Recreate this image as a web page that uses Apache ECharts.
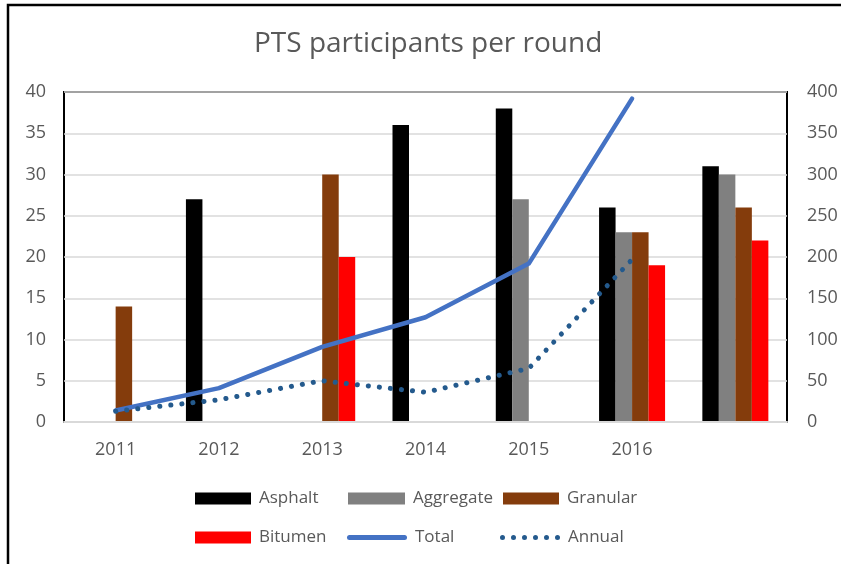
<!DOCTYPE html>
<html>
<head>
<meta charset="utf-8">
<script src="https://cdn.jsdelivr.net/npm/echarts@6/dist/echarts.min.js"></script>
<style>
  html, body { margin: 0; padding: 0; background: #fff; }
  #chart { width: 841px; height: 564px; }
</style>
</head>
<body>
<div id="chart"></div>
<script>
// rounds (the 7th group has no label)
const categories = ['2011', '2012', '2013', '2014', '2015', '2016', '']
// participants per scheme (left axis)
const asphalt = [null, 27, null, 36, 38, 26, 31]
const aggregate = [null, null, null, null, 27, 23, 30]
const granular = [14, null, 30, null, null, 23, 26]
const bitumen = [null, null, 20, null, null, 19, 22]
// totals (right axis)
const total = [14, 41, 91, 127, 192, 392]
const annual = [13, 27, 50, 36, 65, 197]

const textColor = '#595959'
const font = 'Open Sans'

// legend icons for the two lines
const lineIcon = 'path://M2.5,0 L57.5,0 A2.5,2.5 0 0 1 57.5,5 L2.5,5 A2.5,2.5 0 0 1 2.5,0 Z'
let dotPath = ''
for (let i = 0; i < 6; i++) {
  const x = i * 11
  dotPath += 'M' + x + ',2.5 a2.5,2.5 0 1 0 5,0 a2.5,2.5 0 1 0 -5,0 Z '
}
const dotIcon = 'path://' + dotPath

const barSerie = function(name, data, color) {
  return {
    name: name,
    type: 'bar',
    data: data,
    barWidth: 16.5,
    barGap: '0%',
    itemStyle: { color: color },
    z: 2
  }
}

const legendItem = function(name, left, top, icon, w, h) {
  return {
    data: [name],
    left: left,
    top: top,
    padding: 0,
    icon: icon,
    itemWidth: w,
    itemHeight: h,
    selectedMode: false,
    textStyle: { color: textColor, fontSize: 17, fontFamily: font, padding: [0, 0, 0, 3] }
  }
}

const chart = echarts.init(document.getElementById('chart'))
chart.setOption({
  backgroundColor: '#ffffff',
  animation: false,
  title: {
    text: 'PTS participants per round',
    left: 254,
    top: 30,
    padding: 0,
    textStyle: { color: textColor, fontSize: 28, fontWeight: 'normal', fontFamily: font }
  },
  legend: [
    legendItem('Asphalt', 195, 490, 'rect', 56, 12),
    legendItem('Aggregate', 348, 490, 'rect', 57, 12),
    legendItem('Granular', 503, 490, 'rect', 56, 12),
    legendItem('Bitumen', 195, 529, 'rect', 56, 12),
    legendItem('Total', 347, 529, lineIcon, 60, 5),
    legendItem('Annual', 500, 529, dotIcon, 60, 5)
  ],
  grid: {
    left: 64,
    right: 54,
    top: 92,
    bottom: 142,
    show: true,
    borderColor: '#000000',
    borderWidth: 2
  },
  xAxis: {
    type: 'category',
    data: categories,
    z: 5,
    axisLine: { lineStyle: { color: '#d9d9d9', width: 2 } },
    axisTick: { show: false },
    axisLabel: { color: textColor, fontSize: 18, fontFamily: font, margin: 19 }
  },
  yAxis: [{
    type: 'value',
    min: 0,
    max: 40,
    interval: 5,
    axisLine: { show: false },
    axisTick: { show: false },
    splitLine: { lineStyle: { color: '#d9d9d9', width: 1.5 } },
    axisLabel: { color: textColor, fontSize: 18, fontFamily: font, margin: 18 }
  }, {
    type: 'value',
    min: 0,
    max: 400,
    interval: 50,
    axisLine: { show: false },
    axisTick: { show: false },
    splitLine: { show: false },
    axisLabel: { color: textColor, fontSize: 18, fontFamily: font, margin: 20 }
  }],
  series: [
    barSerie('Asphalt', asphalt, '#000000'),
    barSerie('Aggregate', aggregate, '#808080'),
    barSerie('Granular', granular, '#843c0c'),
    barSerie('Bitumen', bitumen, '#ff0000'),
    {
      name: 'Total',
      type: 'line',
      yAxisIndex: 1,
      data: total,
      symbol: 'none',
      z: 4,
      itemStyle: { color: '#4472c4' },
      lineStyle: { color: '#4472c4', width: 4.5, cap: 'round', join: 'round' }
    },
    {
      name: 'Annual',
      type: 'line',
      yAxisIndex: 1,
      data: annual,
      symbol: 'none',
      z: 4,
      itemStyle: { color: '#245a8d' },
      lineStyle: { color: '#245a8d', width: 5, type: [0.1, 11], cap: 'round' }
    }
  ],
  graphic: [{
    type: 'polyline',
    shape: { points: [[8, 570], [8, 5], [850, 5]] },
    style: { stroke: '#000000', lineWidth: 2.5, fill: null },
    silent: true
  }]
})
</script>
</body>
</html>
